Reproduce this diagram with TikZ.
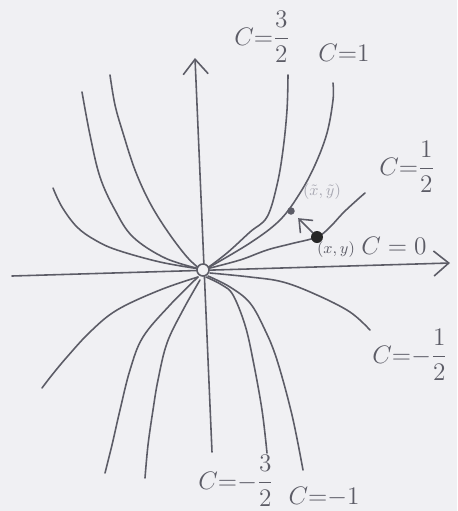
\documentclass[tikz,border=0pt]{standalone}
\usepackage{amsmath}
\usetikzlibrary{arrows.meta}
\definecolor{paper}{RGB}{240,240,243}
\definecolor{pencil}{RGB}{92,92,102}
\definecolor{faint}{RGB}{168,168,178}
\tikzset{
  curve/.style={draw=pencil, line width=0.9pt, line cap=round, line join=round},
  axis/.style={curve, -{Straight Barb[length=3mm,width=5mm]}},
  lbl/.style={text=pencil, font=\fontsize{15}{18}\selectfont, inner sep=0pt},
  ptlbl/.style={text=pencil, font=\fontsize{9.5}{11}\selectfont, inner sep=0pt},
  dot/.style={circle, inner sep=0pt},
}
\begin{document}
\begin{tikzpicture}[x=0.02cm,y=-0.02cm]
\fill[paper] (0,0) rectangle (457,511);
\useasboundingbox (0,0) rectangle (457,511);

% axes
\coordinate (O) at (203,270);
\coordinate (xs) at (12,276);
\coordinate (xe) at (450,263);
\coordinate (ys) at (212,452);
\coordinate (ye) at (195,58);
\draw[axis] (xs) -- (xe);
\draw[axis] (ys) -- (ye);

% upper left branches
\draw[curve] plot[smooth, tension=0.6] coordinates {(53,188) (62,207) (77,227) (95,240) (117,250) (160,262) (200,269)};
\draw[curve] plot[smooth, tension=0.6] coordinates {(82,92) (90,135) (100,177) (115,210) (133,237) (165,258) (200,269)};
\draw[curve] plot[smooth, tension=0.6] coordinates {(110,75) (115,105) (123,133) (135,170) (150,203) (168,232) (187,257) (200,269)};

% upper right branches
\draw[curve] plot[smooth, tension=0.6] coordinates {(206,269) (227,253) (250,232) (267,217) (277,185) (283,150) (287,110) (288,75)};
\draw[curve] plot[smooth, tension=0.6] coordinates {(206,269) (250,243) (280,220) (300,193) (315,165) (327,133) (333,100) (333,83)};
\draw[curve] plot[smooth, tension=0.6] coordinates {(206,269) (240,260) (267,250) (290,244) (317,237) (330,227) (343,213) (357,200) (365,193)};

% lower left branches
\draw[curve] plot[smooth, tension=0.6] coordinates {(198,277) (160,290) (117,310) (90,332) (67,357) (52,375) (42,388)};
\draw[curve] plot[smooth, tension=0.6] coordinates {(198,277) (170,305) (143,337) (130,370) (120,410) (112,445) (105,473)};
\draw[curve] plot[smooth, tension=0.6] coordinates {(200,280) (183,310) (167,343) (158,380) (153,410) (148,445) (145,478)};

% lower right branches
\draw[curve] plot[smooth, tension=0.6] coordinates {(210,273) (250,277) (283,282) (317,295) (350,312) (370,330)};
\draw[curve] plot[smooth, tension=0.6] coordinates {(208,276) (230,287) (250,303) (265,330) (277,360) (292,415) (303,470)};
\draw[curve] plot[smooth, tension=0.6] coordinates {(206,277) (222,285) (233,295) (245,325) (253,360) (262,410) (267,453)};

% origin
\draw[curve, fill=paper] (O) circle[radius=0.12cm];

% points and arrow
\node[dot, fill=black!85, minimum size=2.4mm] (p) at (317,237) {};
\node[dot, fill=pencil, minimum size=1.5mm] (pt) at (291,211) {};
\draw[curve, -{Straight Barb[length=2.2mm,width=3.6mm]}, shorten >=1.2mm] (p) -- (pt);

% labels
\node[lbl] (l32) at (262,37) {$C{=}\dfrac{3}{2}$};
\node[lbl] (l1) at (344,53) {$C{=}1$};
\node[lbl] (l12) at (407,167) {$C{=}\dfrac{1}{2}$};
\node[lbl] (l0) at (394,246) {$C=0$};
\node[lbl] (lm12) at (410,355) {$C{=}{-}\dfrac{1}{2}$};
\node[lbl] (lm32) at (236,481) {$C{=}{-}\dfrac{3}{2}$};
\node[lbl] (lm1) at (324,497) {$C{=}{-}1$};
\node[ptlbl] (pl) at (336,250) {$(x,y)$};
\node[ptlbl, text=faint] (ptl) at (322,192) {$(\tilde x,\tilde y)$};
\end{tikzpicture}
\end{document}
